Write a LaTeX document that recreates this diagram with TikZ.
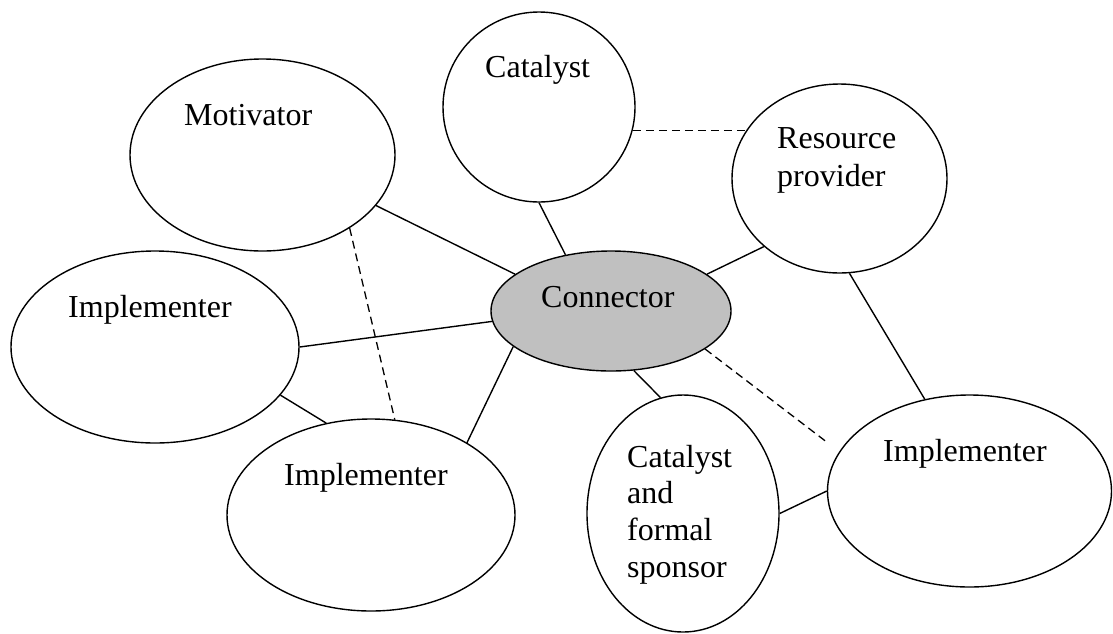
\documentclass[tikz,border=0pt]{standalone}
\usepackage{fontspec}
\setmainfont{Liberation Serif}
\usetikzlibrary{shapes.geometric}
\definecolor{congray}{RGB}{192,192,192}
\tikzset{
  bubble/.style={ellipse, draw=black, line width=1.4pt, inner sep=0pt, fill=white},
  lbl/.style={font=\fontsize{32}{37}\selectfont, inner sep=0pt, anchor=base west},
  link/.style={line width=1.4pt},
  dlink/.style={line width=1.3pt, dash pattern=on 8pt off 5pt},
}
\begin{document}
\begin{tikzpicture}[x=1pt,y=-1pt]
\useasboundingbox (0,0) rectangle (1113,633);

% bubbles
\node[bubble, minimum width=192pt, minimum height=190pt] (cat) at (539,107) {};
\node[bubble, minimum width=265pt, minimum height=192pt] (mot) at (262.5,155) {};
\node[bubble, minimum width=215pt, minimum height=189pt] (res) at (839.5,178.5) {};
\node[bubble, minimum width=288pt, minimum height=192pt] (iml) at (155,347) {};
\node[bubble, minimum width=240pt, minimum height=120pt, fill=congray] (con) at (611,311) {};
\node[bubble, minimum width=288pt, minimum height=192pt] (imb) at (371,515) {};
\node[bubble, minimum width=192pt, minimum height=237pt] (spo) at (683,513.5) {};
\node[bubble, minimum width=284pt, minimum height=192pt] (imr) at (969.5,491) {};

% labels
\node[lbl] (tcat) at (485,77) {Catalyst};
\node[lbl] (tmot) at (184,125) {Motivator};
\node[lbl] (tres1) at (777,148) {Resource};
\node[lbl] (tres2) at (777,186) {provider};
\node[lbl] (timl) at (68,317) {Implementer};
\node[lbl] (tcon) at (541,307) {Connector};
\node[lbl] (timb) at (284,485) {Implementer};
\node[lbl] (tspo1) at (627,467) {Catalyst};
\node[lbl] (tspo2) at (627,503.7) {and};
\node[lbl] (tspo3) at (627,540.4) {formal};
\node[lbl] (tspo4) at (627,577) {sponsor};
\node[lbl] (timr) at (883,461) {Implementer};

% solid connectors
\draw[link] (mot.-24) -- (con.159.3);
\draw[link] (cat.-90) -- (con.129);
\draw[link] (res.222) -- (con.21.4);
\draw[link] (iml.0) -- (con.185.8);
\draw[link] (con.200.9) -- (imb.37);
\draw[link] (con.-69) -- (spo.101.4);
\draw[link] (iml.-21.8) -- (imb.116.6);
\draw[link] (res.-84) -- (imr.116);
\draw[link] (spo.0) -- (imr.180);

% dashed connectors
\coordinate (dEnd) at (828,443);
\draw[dlink] (cat.-14) -- (cat.-14 -| res.151);
\draw[dlink] (mot.-40.5) -- (imb.76);
\draw[dlink] (con.-22) -- (dEnd);
\end{tikzpicture}
\end{document}
